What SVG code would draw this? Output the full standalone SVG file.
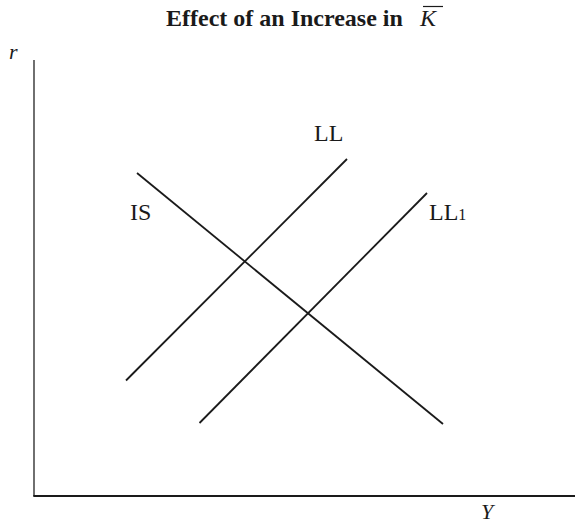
<svg xmlns="http://www.w3.org/2000/svg" width="575" height="526" viewBox="0 0 575 526">
<style>
.t{font-family:"Liberation Serif","Times New Roman",serif;fill:#1a1a1a}
.c{stroke:#1a1a1a;stroke-width:1.8;fill:none}
</style>
<rect width="575" height="526" fill="#fff"/>
<g id="title">
<text class="t" x="166" y="26" font-size="24" font-weight="bold">Effect of an Increase in</text>
<text class="t" x="420" y="26" font-size="24" font-style="italic">K</text>
<line x1="423" y1="6.5" x2="443" y2="6.5" stroke="#1a1a1a" stroke-width="1.2"/>
</g>
<g id="axes">
<line x1="34" y1="60" x2="34" y2="496" stroke="#333" stroke-width="1.4"/>
<line x1="33.3" y1="496" x2="575" y2="496" stroke="#1a1a1a" stroke-width="2"/>
<text class="t" x="9" y="59" font-size="22" font-style="italic">r</text>
<text class="t" x="481" y="519" font-size="22" font-style="italic">Y</text>
</g>
<g id="connectors">
<line class="c" x1="137" y1="173" x2="443" y2="424"/>
<line class="c" x1="126" y1="380.5" x2="347" y2="159"/>
<line class="c" x1="199.5" y1="423" x2="427" y2="193"/>
</g>
<g id="IS"><text class="t" x="130" y="220" font-size="24">IS</text></g>
<g id="LL"><text class="t" x="314" y="141" font-size="24">LL</text></g>
<g id="LL1"><text class="t" x="429" y="220" font-size="24">LL<tspan font-size="16">1</tspan></text></g>
</svg>
